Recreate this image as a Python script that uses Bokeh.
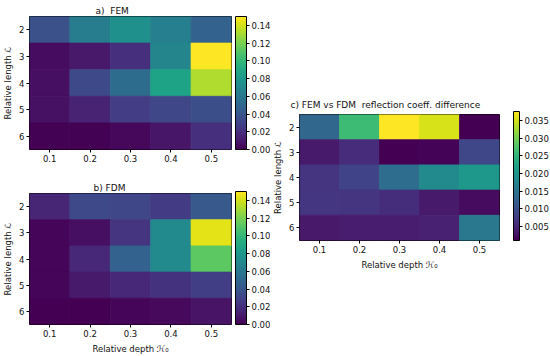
from bokeh.plotting import figure
from bokeh.models import (LinearColorMapper, ColorBar, FixedTicker, PrintfTickFormatter,
                          Range1d, ColumnDataSource, Spacer)
from bokeh.layouts import row, column
from bokeh.palettes import Viridis256
from bokeh.embed import file_html
from bokeh.resources import INLINE

depths = [0.1, 0.2, 0.3, 0.4, 0.5]
lengths = [2, 3, 4, 5, 6]

# rows = relative length 2..6, columns = relative depth 0.1..0.5
fem = [
    [0.037, 0.063, 0.075, 0.065, 0.047],
    [0.005, 0.010, 0.021, 0.068, 0.150],
    [0.006, 0.033, 0.053, 0.087, 0.132],
    [0.007, 0.015, 0.027, 0.032, 0.036],
    [0.001, 0.001, 0.003, 0.009, 0.021],
]
fdm = [
    [0.016, 0.033, 0.032, 0.026, 0.042],
    [0.002, 0.006, 0.023, 0.071, 0.144],
    [0.002, 0.017, 0.047, 0.071, 0.112],
    [0.002, 0.011, 0.017, 0.022, 0.028],
    [0.000, 0.000, 0.002, 0.004, 0.008],
]
diff = [
    [0.0130, 0.0260, 0.0375, 0.0353, 0.0010],
    [0.0036, 0.0057, 0.0010, 0.0014, 0.0087],
    [0.0065, 0.0083, 0.0140, 0.0185, 0.0205],
    [0.0068, 0.0065, 0.0058, 0.0036, 0.0020],
    [0.0035, 0.0038, 0.0038, 0.0043, 0.0156],
]
cb_ticks_ab = [0.00, 0.02, 0.04, 0.06, 0.08, 0.10, 0.12, 0.14]
cb_ticks_c = [0.005, 0.010, 0.015, 0.020, 0.025, 0.030, 0.035]

FONT = "DejaVu Sans"
FS = "8.5px"
TXT = "#111111"


def heat(values, lo, hi, ticks, fmt, title, title_offset, title_standoff,
         w, h, bl, br, bt, bb, xlabel, cb_width, cb_x):
    xs, ys, vs = [], [], []
    for i, L in enumerate(lengths):
        for j, d in enumerate(depths):
            xs.append(d)
            ys.append(L)
            vs.append(values[i][j])
    src = ColumnDataSource(dict(x=xs, y=ys, v=vs))
    mapper = LinearColorMapper(palette=Viridis256, low=lo, high=hi)
    p = figure(width=w, height=h, output_backend="svg", toolbar_location=None,
               x_range=Range1d(0.05, 0.55), y_range=Range1d(6.5, 1.5),
               min_border_left=bl, min_border_right=br, min_border_top=bt, min_border_bottom=bb)
    cmap = {"field": "v", "transform": mapper}
    p.rect(x="x", y="y", width=0.1, height=1.0, source=src,
           fill_color=cmap, line_color=cmap, line_width=0.8)
    p.grid.visible = False
    p.outline_line_color = "black"
    p.outline_line_width = 1
    p.background_fill_color = "white"
    p.border_fill_color = "white"
    p.xaxis.ticker = FixedTicker(ticks=depths)
    p.yaxis.ticker = FixedTicker(ticks=lengths)
    for ax in (p.xaxis[0], p.yaxis[0]):
        ax.axis_line_color = None
        ax.major_tick_out = 3
        ax.major_tick_in = 0
        ax.minor_tick_line_color = None
        ax.major_tick_line_color = "black"
        ax.major_label_text_font = FONT
        ax.major_label_text_font_size = FS
        ax.major_label_text_color = TXT
        ax.major_label_standoff = 2
        ax.axis_label_text_font = FONT
        ax.axis_label_text_font_size = FS
        ax.axis_label_text_font_style = "normal"
        ax.axis_label_text_color = TXT
    p.yaxis.axis_label_standoff = 3
    p.xaxis.axis_label_standoff = 4
    p.yaxis.axis_label = "Relative length \u2112"
    if xlabel:
        p.xaxis.axis_label = "Relative depth \u210b\u2080"
    p.title.text = title
    p.title.align = "left"
    p.title.offset = title_offset
    p.title.standoff = title_standoff
    p.title.text_font = FONT
    p.title.text_font_size = "9px"
    p.title.text_font_style = "normal"
    p.title.text_color = TXT
    fh = h - bt - bb
    cb = ColorBar(color_mapper=mapper, ticker=FixedTicker(ticks=ticks),
                  formatter=PrintfTickFormatter(format=fmt),
                  width=cb_width, height=fh, padding=0, margin=0,
                  location=(cb_x, 0),
                  major_tick_out=3, major_tick_in=0, major_tick_line_color="black",
                  minor_tick_line_color=None,
                  bar_line_color="black", label_standoff=2,
                  major_label_text_font=FONT, major_label_text_font_size=FS,
                  major_label_text_color=TXT,
                  background_fill_alpha=0, border_line_color=None)
    p.add_layout(cb, "center")
    return p


fa = heat(fem, 0.0, 0.15, cb_ticks_ab, "%.2f", "a)\u00a0 FEM", 66, 2,
          270, 170, 27, 39, 16, 21, False, 11, 206)
fb = heat(fdm, 0.0, 0.15, cb_ticks_ab, "%.2f", "b) FDM", 64, 2,
          270, 186, 27, 39, 23, 30, True, 11, 206)
fc = heat(diff, 0.001, 0.0375, cb_ticks_c, "%.3f",
          "c) FEM vs FDM\u00a0 reflection coeff. difference", -9, 10,
          280, 184, 27, 51, 26, 29, True, 6, 214)

layout = row(column(fa, fb), column(Spacer(width=280, height=88), fc))

html = file_html(layout, INLINE)
html = html.replace("<body>", '<body style="margin:0;padding:0">', 1)
open("out.html", "w").write(html)
